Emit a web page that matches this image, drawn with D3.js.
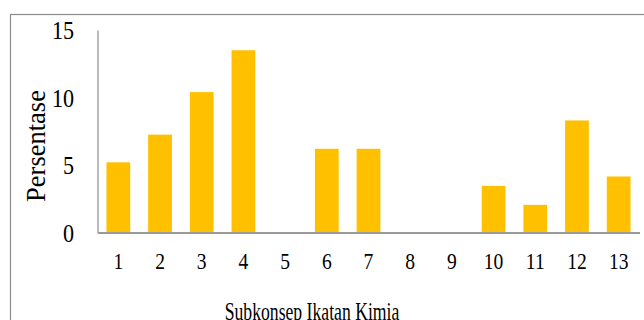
<!DOCTYPE html>
<html>
<head>
<meta charset="utf-8">
<script src="https://cdn.jsdelivr.net/npm/d3@7"></script>
<style>
  html, body { margin: 0; padding: 0; background: #fff; }
  svg { display: block; }
  text { font-family: "Liberation Serif", "Times New Roman", serif; fill: #000; }
</style>
</head>
<body>
<svg id="chart" width="644" height="320"></svg>
<script>
// Subkonsep categories and the percentage for each
const categories = ["1", "2", "3", "4", "5", "6", "7", "8", "9", "10", "11", "12", "13"];
const values = [5.2, 7.25, 10.4, 13.5, 0, 6.2, 6.2, 0, 0, 3.45, 2.05, 8.3, 4.15];
const yTicks = [0, 5, 10, 15];
const xTitle = "Subkonsep Ikatan Kimia";
const yTitle = "Persentase";

const svg = d3.select("#chart");
const W = 644, H = 320;
const plot = { left: 97.5, right: 639.5, top: 30, bottom: 232.5 };
const textSx = 0.85;

// outer chart frame (extends past the right and bottom edges)
svg.append("rect")
  .attr("x", 10.5).attr("y", 14.5)
  .attr("width", W + 20).attr("height", H + 20)
  .attr("fill", "none").attr("stroke", "#8c8c8c").attr("stroke-width", 1.2);

const x = d3.scaleBand()
  .domain(categories)
  .range([plot.left, plot.right])
  .paddingInner(0.43)
  .paddingOuter(0.215);

const y = d3.scaleLinear()
  .domain([0, 15])
  .range([plot.bottom, plot.top]);

// bars
svg.append("g").selectAll("rect")
  .data(categories.map((c, i) => ({ c, v: values[i] })))
  .join("rect")
  .attr("x", d => x(d.c))
  .attr("width", x.bandwidth())
  .attr("y", d => y(d.v))
  .attr("height", d => y(0) - y(d.v))
  .attr("fill", "#FFC000");

// y axis (line + labels, no tick marks)
const yAxis = svg.append("g")
  .attr("transform", `translate(${plot.left},0)`)
  .call(d3.axisLeft(y).tickValues(yTicks).tickSize(0).tickPadding(0));
yAxis.select(".domain").attr("stroke", "#8c8c8c").attr("stroke-width", 1.2);
yAxis.selectAll("text")
  .attr("font-size", 26)
  .attr("font-family", "Liberation Serif, Times New Roman, serif")
  .attr("dy", "0.33em")
  .attr("x", -23.5 / textSx)
  .attr("transform", `scale(${textSx},1)`)
  .attr("text-anchor", "end");

// x axis (baseline + category labels, condensed around each tick centre)
const xAxis = svg.append("g")
  .attr("transform", `translate(0,${plot.bottom})`)
  .call(d3.axisBottom(x).tickSize(0).tickPadding(0));
xAxis.select(".domain").attr("stroke", "#9a9a9a").attr("stroke-width", 2);
xAxis.selectAll(".tick text")
  .attr("font-size", 23)
  .attr("font-family", "Liberation Serif, Times New Roman, serif")
  .attr("x", 0)
  .attr("y", 36.5)
  .attr("dy", 0)
  .attr("transform", `scale(${textSx},1)`);

// axis titles
svg.append("text")
  .attr("transform", `translate(312,319.5) scale(0.68,1)`)
  .attr("text-anchor", "middle")
  .attr("font-size", 26)
  .text(xTitle);

svg.append("text")
  .attr("transform", `translate(45,146) rotate(-90)`)
  .attr("text-anchor", "middle")
  .attr("font-size", 26.5)
  .text(yTitle);
</script>
</body>
</html>
